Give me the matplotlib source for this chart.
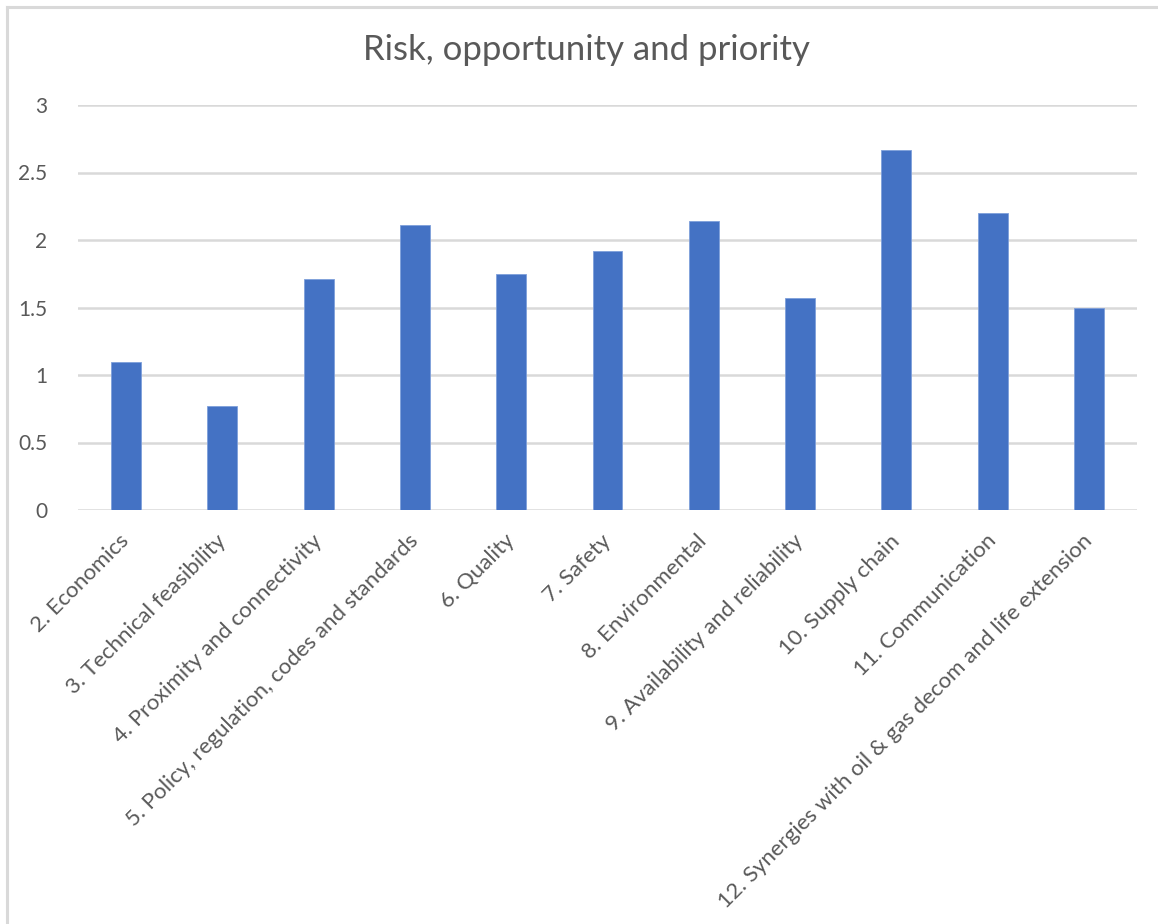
import matplotlib
matplotlib.use("Agg")
import matplotlib.pyplot as plt
from matplotlib.lines import Line2D

categories = [
    "2. Economics",
    "3. Technical feasibility",
    "4. Proximity and connectivity",
    "5. Policy, regulation, codes and standards",
    "6. Quality",
    "7. Safety",
    "8. Environmental",
    "9. Availability and reliability",
    "10. Supply chain",
    "11. Communication",
    "12. Synergies with oil & gas decom and life extension",
]
scores = [1.10, 0.77, 1.71, 2.11, 1.75, 1.92, 2.14, 1.57, 2.67, 2.20, 1.50]
y_ticks = [0, 0.5, 1, 1.5, 2, 2.5, 3]
y_tick_labels = ["0", "0.5", "1", "1.5", "2", "2.5", "3"]
title = "Risk, opportunity and priority"

TEXT = "#595959"
GRID = "#D9D9D9"
BAR = "#4472C4"

plt.rcParams["font.family"] = ["Lato", "DejaVu Sans"]

W, H = 1158, 924
fig = plt.figure(figsize=(W / 100, H / 100), dpi=100)

# chart frame: only top and left edges are visible
fig.add_artist(Line2D([7.5 / W, 7.5 / W], [0, 1 - 6.5 / H], transform=fig.transFigure,
                      color=GRID, lw=2.2))
fig.add_artist(Line2D([7.5 / W, 1], [1 - 6.5 / H, 1 - 6.5 / H], transform=fig.transFigure,
                      color=GRID, lw=2.2))

left, right, top, bottom = 78, 1137, 105, 510
ax = fig.add_axes([left / W, 1 - bottom / H, (right - left) / W, (bottom - top) / H])

x = list(range(len(categories)))
ax.bar(x, scores, width=0.31, color=BAR, edgecolor="#7E9FDA", linewidth=0.6, zorder=3)

ax.set_xlim(-0.5, len(categories) - 0.5)
ax.set_ylim(0, 3)
ax.set_yticks(y_ticks)
ax.set_yticklabels(y_tick_labels)
ax.yaxis.grid(True, color=GRID, linewidth=1.8, zorder=0)
ax.set_axisbelow(True)
for s in ax.spines.values():
    s.set_visible(False)
ax.tick_params(axis="y", length=0, pad=22, labelsize=15, labelcolor=TEXT)
ax.tick_params(axis="x", length=0, pad=20, labelsize=16, labelcolor=TEXT)
ax.set_xticks(x)
ax.set_xticklabels(categories, rotation=45, ha="right", va="center",
                   rotation_mode="anchor")

fig.text(586.5 / W, 1 - 50 / H, title, ha="center", va="center",
         fontsize=25, color=TEXT)

fig.savefig("out.png", dpi=100, facecolor="white")
